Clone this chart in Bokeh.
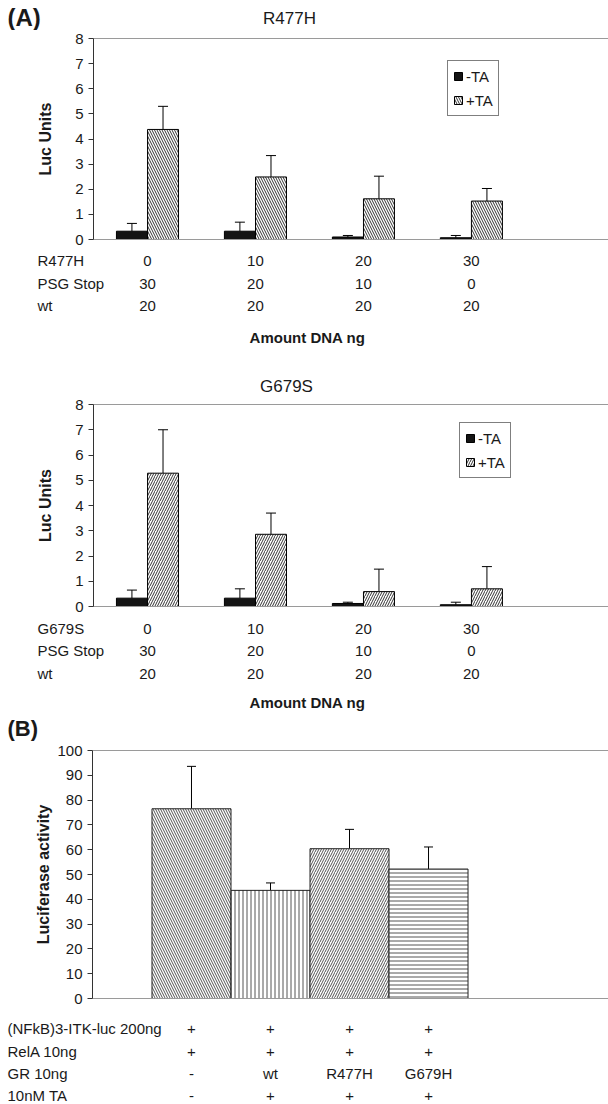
from bokeh.plotting import figure
from bokeh.models import (Range1d, LinearAxis, FixedTicker, ColumnDataSource, Whisker, TeeHead,
                          Legend, LegendItem, Label, LabelSet)
from bokeh.layouts import column
from bokeh.core.properties import value
from bokeh.embed import file_html
from bokeh.resources import INLINE

FONT = "Liberation Sans"
TXT = "#1a1a1a"
W = 608

# ---------------- data ----------------
categories = [0, 1, 2, 3]
mutant_ng = ["0", "10", "20", "30"]
psg_stop_ng = ["30", "20", "10", "0"]
wt_ng = ["20", "20", "20", "20"]

r477h_minus_ta = [0.33, 0.33, 0.10, 0.07]
r477h_minus_ta_err = [0.31, 0.36, 0.06, 0.09]
r477h_plus_ta = [4.38, 2.49, 1.62, 1.53]
r477h_plus_ta_err = [0.92, 0.85, 0.90, 0.50]

g679s_minus_ta = [0.33, 0.33, 0.12, 0.07]
g679s_minus_ta_err = [0.32, 0.37, 0.05, 0.10]
g679s_plus_ta = [5.28, 2.86, 0.59, 0.70]
g679s_plus_ta_err = [1.72, 0.84, 0.89, 0.88]

b_conditions = [0, 1, 2, 3]
b_luciferase = [76.5, 43.6, 60.4, 52.2]
b_luciferase_err = [17.1, 3.0, 7.8, 8.9]
b_row_names = ["(NFkB)3-ITK-luc 200ng", "RelA 10ng", "GR 10ng", "10nM TA"]
b_nfkb = ["+", "+", "+", "+"]
b_rela = ["+", "+", "+", "+"]
b_gr = ["-", "wt", "R477H", "G679H"]
b_ta = ["-", "+", "+", "+"]

# ---------------- styles / layout ----------------
b_hatches = ["\\", "|", "/", "-"]
b_hatch_scales = [5, 4, 5, 4]

A_X = (-0.5, 4.27)
A_LEFT = 93
B_X = (-1.253, 5.278)
B_LEFT = 92


def strip_range(xr, left):
    scale = (W - left) / (xr[1] - xr[0])
    return Range1d(xr[0] - left / scale, xr[1])


def hidden_axis():
    return LinearAxis(ticker=FixedTicker(ticks=[]), axis_line_color="#9a9a9a",
                      major_tick_line_color=None, minor_tick_line_color=None,
                      major_label_text_font_size="0px")


def left_axis(ticks, label, standoff):
    return LinearAxis(ticker=FixedTicker(ticks=ticks), axis_label=label,
                      axis_line_color="#333333", major_tick_line_color="#333333",
                      major_tick_out=5, major_tick_in=0, minor_tick_line_color=None,
                      major_label_text_font=FONT, major_label_text_font_size="15px",
                      major_label_text_color=TXT, major_label_standoff=5,
                      axis_label_text_font=FONT, axis_label_text_font_size="16px",
                      axis_label_text_font_style="bold", axis_label_text_color=TXT,
                      axis_label_standoff=standoff)


def strip(height, xr, left):
    p = figure(width=W, height=height, x_range=strip_range(xr, left), y_range=Range1d(0, 1),
               output_backend="svg", toolbar_location=None, x_axis_type=None, y_axis_type=None,
               min_border=0, outline_line_color=None, frame_align=False)
    p.grid.visible = False
    return p


def label(p, x, y, text, size="15px", bold=False, align="left"):
    p.add_layout(Label(x=x, y=y, x_units="screen", y_units="screen", text=text,
                       text_align=align, text_baseline="middle", text_font=FONT,
                       text_font_size=size, text_font_style="bold" if bold else "normal",
                       text_color=TXT))


def table(p, xs_cat, rows, offsets, names, name_x, size="15px"):
    xs, ys, ts = [], [], []
    for off, vals in zip(offsets, rows):
        for c, t in zip(xs_cat, vals):
            xs.append(c)
            ys.append(off)
            ts.append(t)
    src = ColumnDataSource(dict(x=xs, y=ys, text=ts))
    p.add_layout(LabelSet(x="x", y="y", text="text", source=src, x_units="data", y_units="screen",
                          text_align="center", text_baseline="middle", text_font=value(FONT),
                          text_font_size=size, text_color=TXT))
    nsrc = ColumnDataSource(dict(x=[name_x] * len(names), y=offsets[:len(names)], text=names))
    p.add_layout(LabelSet(x="x", y="y", text="text", source=nsrc, x_units="screen", y_units="screen",
                          text_align="left", text_baseline="middle", text_font=value(FONT),
                          text_font_size=size, text_color=TXT))


def chart_a(minus, minus_err, plus, plus_err, hatch, height, legend_xy):
    p = figure(width=W, height=height, x_range=Range1d(*A_X), y_range=Range1d(0, 8),
               output_backend="svg", toolbar_location=None, x_axis_type=None, y_axis_type=None,
               min_border_left=A_LEFT, min_border_right=0, min_border_top=8,
               min_border_bottom=8, outline_line_color=None, frame_align=False)
    p.add_layout(left_axis(list(range(9)), "Luc Units", 18), "left")
    p.add_layout(hidden_axis(), "below")
    p.add_layout(hidden_axis(), "above")
    p.ygrid.grid_line_color = None

    off = 0.144
    w = 0.287
    sm = ColumnDataSource(dict(x=[c - off for c in categories], top=minus,
                               upper=[v + e for v, e in zip(minus, minus_err)]))
    sp = ColumnDataSource(dict(x=[c + off for c in categories], top=plus,
                               upper=[v + e for v, e in zip(plus, plus_err)]))
    r1 = p.vbar(x="x", top="top", bottom=0, width=w, source=sm, fill_color="#141414",
                line_color="black", line_width=1)
    r2 = p.vbar(x="x", top="top", bottom=0, width=w, source=sp, fill_color="white",
                hatch_pattern=hatch, hatch_color="#333333", hatch_scale=5, hatch_weight=1,
                line_color="black", line_width=1)
    for s in (sm, sp):
        p.add_layout(Whisker(source=s, base="x", lower="top", upper="upper", line_color="black",
                             line_width=1, lower_head=None,
                             upper_head=TeeHead(size=10, line_color="black", line_width=1)))

    leg = Legend(items=[LegendItem(label="-TA", renderers=[r1]), LegendItem(label="+TA", renderers=[r2])],
                 location=legend_xy, border_line_color="black", border_line_width=1,
                 background_fill_color="white", background_fill_alpha=1,
                 label_text_font=FONT, label_text_font_size="15px", label_text_color=TXT,
                 glyph_width=10, glyph_height=10, label_standoff=3, padding=5, spacing=4,
                 margin=0, label_height=20)
    p.add_layout(leg)
    return p


# header of A1
h1 = strip(30, A_X, A_LEFT)
label(h1, 7, 13, "(A)", size="24px", bold=True)
label(h1, 289, 12, "R477H", size="17px", align="center")

c1 = chart_a(r477h_minus_ta, r477h_minus_ta_err, r477h_plus_ta, r477h_plus_ta_err,
             "\\", 217, (354, 123))

# table of A1 + header of A2
s1 = strip(149, A_X, A_LEFT)
table(s1, categories, [mutant_ng, psg_stop_ng, wt_ng], [136, 113, 91], ["R477H", "PSG Stop", "wt"], 37)
label(s1, 307, 59, "Amount DNA ng", size="15px", bold=True, align="center")
label(s1, 286, 10, "G679S", size="17px", align="center")

c2 = chart_a(g679s_minus_ta, g679s_minus_ta_err, g679s_plus_ta, g679s_plus_ta_err,
             "/", 218, (366, 128))

# table of A2 + header of B
s2 = strip(128, A_X, A_LEFT)
table(s2, categories, [mutant_ng, psg_stop_ng, wt_ng], [114, 92, 69], ["G679S", "PSG Stop", "wt"], 37)
label(s2, 307, 40, "Amount DNA ng", size="15px", bold=True, align="center")
label(s2, 7, 14, "(B)", size="22px", bold=True)

# ---------------- panel B chart ----------------
pb = figure(width=W, height=264, x_range=Range1d(*B_X), y_range=Range1d(0, 100),
            output_backend="svg", toolbar_location=None, x_axis_type=None, y_axis_type=None,
            min_border_left=B_LEFT, min_border_right=0, min_border_top=8, min_border_bottom=8,
            outline_line_color=None, frame_align=False)
pb.add_layout(left_axis(list(range(0, 101, 10)), "Luciferase activity", 2), "left")
pb.add_layout(hidden_axis(), "below")
pb.add_layout(hidden_axis(), "above")
pb.ygrid.grid_line_color = None

sb = ColumnDataSource(dict(x=b_conditions, top=b_luciferase,
                           upper=[v + e for v, e in zip(b_luciferase, b_luciferase_err)],
                           hatch=b_hatches, hscale=b_hatch_scales))
pb.vbar(x="x", top="top", bottom=0, width=1.0, source=sb, fill_color="white",
        hatch_pattern="hatch", hatch_color="#404040", hatch_scale="hscale", hatch_weight=0.9,
        line_color="#222222", line_width=1)
pb.add_layout(Whisker(source=sb, base="x", lower="top", upper="upper", line_color="black",
                      line_width=1, lower_head=None,
                      upper_head=TeeHead(size=9, line_color="black", line_width=1)))

# table of B
s3 = strip(98, B_X, B_LEFT)
table(s3, b_conditions, [b_nfkb, b_rela, b_gr, b_ta], [76, 53, 31, 9], b_row_names, 7)

layout = column(h1, c1, s1, c2, s2, pb, s3, spacing=0)
open("out.html", "w").write(file_html(layout, INLINE))
